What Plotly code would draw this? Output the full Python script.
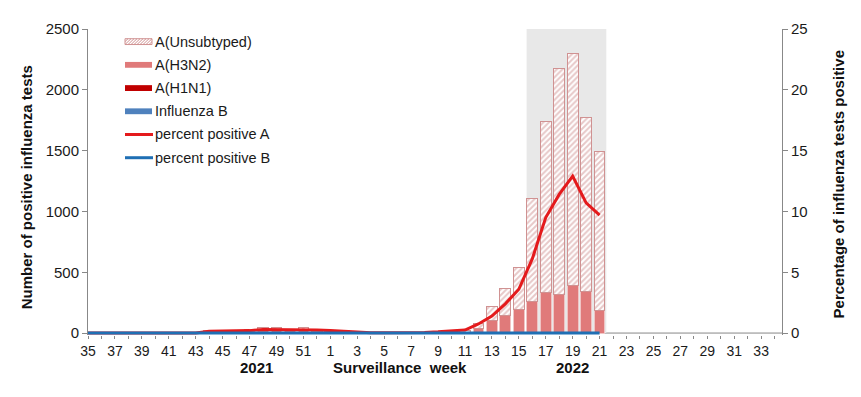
import plotly.graph_objects as go

# ---- data ----
weeks = list(range(35, 53)) + list(range(1, 35))
tick_labels = [str(w) if w % 2 == 1 else "" for w in weeks]

N = None
# values per week (35..52 of 2021, 1..34 of 2022)
influenza_b = [0]*9 + [5, 3, 2, 2, 2, 2, 2, 2, 1, 1, 1, 0, 0, 0, 0, 0, 0, 0, 0, 0,
                       0, 0, 0, 0, 0, 0, 0, 0, 0] + [N]*13
a_h1n1 = [0]*9 + [0]*30 + [N]*13
a_h3n2 = [0]*9 + [8, 10, 10, 12, 22, 15, 15, 15, 12, 10, 8, 2, 0, 0, 0, 0, 0, 2, 4, 8,
                  35, 101, 147, 195, 258, 330, 317, 391, 343, 184] + [N]*13
a_unsub = [0]*9 + [12, 10, 10, 12, 18, 25, 15, 25, 12, 10, 10, 3, 1, 1, 1, 1, 2, 4, 6, 10,
                   40, 120, 218, 346, 852, 1411, 1855, 1909, 1430, 1310] + [N]*13
pct_a = [0]*9 + [0.15, 0.15, 0.2, 0.2, 0.3, 0.3, 0.3, 0.3, 0.25, 0.2, 0.15, 0.05, 0.02, 0.02,
                 0.02, 0.02, 0.05, 0.1, 0.15, 0.25, 0.75, 1.4, 2.4, 3.6, 6.1, 9.5, 11.4,
                 12.9, 10.7, 9.7] + [N]*13
pct_b = [0]*39 + [N]*13

x = list(range(len(weeks)))

# ---- styling ----
C_UNSUB = "#D09292"
C_H3N2 = "#E07A7A"
C_H1N1 = "#C00000"
C_B = "#4F81BD"
C_LA = "#E41A1C"
C_LB = "#1F6FB4"
FONT = "Liberation Sans, Arial, sans-serif"

fig = go.Figure()
fig.add_trace(go.Bar(x=x, y=influenza_b, name="Influenza B", width=0.8,
                     marker=dict(color=C_B, line=dict(width=0)), showlegend=False))
fig.add_trace(go.Bar(x=x, y=a_h1n1, name="A(H1N1)", width=0.8,
                     marker=dict(color=C_H1N1, line=dict(width=0)), showlegend=False))
fig.add_trace(go.Bar(x=x, y=a_h3n2, name="A(H3N2)", width=0.8,
                     marker=dict(color=C_H3N2, line=dict(width=1, color="#F0C4C4")),
                     showlegend=False))
fig.add_trace(go.Bar(x=x, y=a_unsub, name="A(Unsubtyped)", width=0.8,
                     marker=dict(color="white", line=dict(width=1, color=C_UNSUB),
                                 pattern=dict(shape="/", fgcolor=C_UNSUB, bgcolor="white",
                                              size=4, solidity=0.5)),
                     showlegend=False))
fig.add_trace(go.Scatter(x=x, y=pct_a, name="percent positive A", yaxis="y2",
                         mode="lines", line=dict(color=C_LA, width=3),
                         cliponaxis=False, showlegend=False))
fig.add_trace(go.Scatter(x=x, y=pct_b, name="percent positive B", yaxis="y2",
                         mode="lines", line=dict(color=C_LB, width=3),
                         cliponaxis=False, showlegend=False))

# page body has an 8px margin; target plot area is x 88..782, y 20..333 in the window
OFF = 8
W, H = 853, 389
EXT = 2  # plot area extends 2px below the zero line so the zero-level lines are not clipped
L, R, T, B = 88 - OFF, 79, 20 - OFF, 64 - EXT
PW = W - L - R
PH0 = 313  # pixel height from 0 to top of axis range
Y1MAX, Y2MAX = 2500, 25
y1min = -Y1MAX * EXT / PH0
y2min = -Y2MAX * EXT / PH0
PH = PH0 + EXT


def px(xp):
    return (xp - OFF - L) / PW


def py(yp):
    # window pixel -> paper fraction
    return (T + PH - (yp - OFF)) / PH


shapes = [dict(type="rect", xref="x", yref="y", x0=32.58, x1=38.5, y0=0, y1=Y1MAX,
               fillcolor="#E8E8E8", line=dict(width=0), layer="below"),
          dict(type="line", xref="paper", yref="y", x0=0, x1=1, y0=0, y1=0,
               line=dict(color="#888", width=1), layer="below")]
annotations = []

# custom legend
legend_items = [("A(Unsubtyped)", "hatch"), ("A(H3N2)", C_H3N2), ("A(H1N1)", C_H1N1),
                ("Influenza B", C_B), ("percent positive A", ("line", C_LA)),
                ("percent positive B", ("line", C_LB))]
sx0, sx1 = 125, 152
for i, (label, kind) in enumerate(legend_items):
    cy = 33 + i * 23.9
    if kind == "hatch":
        shapes.append(dict(type="rect", xref="paper", yref="paper", x0=px(sx0), x1=px(sx1),
                           y0=py(cy + 3), y1=py(cy - 3), fillcolor="white",
                           line=dict(color=C_UNSUB, width=1)))
        a = sx0 - 6
        while a < sx1:
            t0 = max(0.0, (sx0 - a) / 6.0)
            t1 = min(1.0, (sx1 - a) / 6.0)
            if t1 > t0:
                shapes.append(dict(type="line", xref="paper", yref="paper",
                                   x0=px(a + 6 * t0), y0=py(cy + 3 - 6 * t0),
                                   x1=px(a + 6 * t1), y1=py(cy + 3 - 6 * t1),
                                   line=dict(color=C_UNSUB, width=1)))
            a += 3
    elif isinstance(kind, tuple):
        shapes.append(dict(type="line", xref="paper", yref="paper", x0=px(sx0), x1=px(sx1 + 1),
                           y0=py(cy), y1=py(cy), line=dict(color=kind[1], width=3)))
    else:
        shapes.append(dict(type="rect", xref="paper", yref="paper", x0=px(sx0), x1=px(sx1),
                           y0=py(cy + 3), y1=py(cy - 3), fillcolor=kind,
                           line=dict(width=0)))
    annotations.append(dict(text=label, xref="paper", yref="paper", x=px(153), y=py(cy),
                            xanchor="left", yanchor="middle", showarrow=False,
                            font=dict(size=14.5, color="#1a1a1a", family=FONT)))

# axis titles & year labels
annotations += [
    dict(text="<b>Number of positive influenza tests</b>", xref="paper", yref="paper",
         x=px(26), y=py(183), textangle=-90, showarrow=False, xanchor="center",
         yanchor="middle", font=dict(size=15, color="#111", family=FONT)),
    dict(text="<b>Percentage of influenza tests positive</b>", xref="paper", yref="paper",
         x=px(838), y=py(180), textangle=-90, showarrow=False, xanchor="center",
         yanchor="middle", font=dict(size=15, color="#111", family=FONT)),
    dict(text="<b>2021</b>", xref="paper", yref="paper", x=px(238), y=py(379),
         showarrow=False, font=dict(size=15, color="#111", family=FONT)),
    dict(text="<b>Surveillance\u00a0\u00a0week</b>", xref="paper", yref="paper", x=px(400),
         y=py(379), showarrow=False, font=dict(size=15, color="#111", family=FONT)),
    dict(text="<b>2022</b>", xref="paper", yref="paper", x=px(591), y=py(379),
         showarrow=False, font=dict(size=15, color="#111", family=FONT)),
]

fig.update_layout(
    width=W, height=H, margin=dict(l=L, r=R, t=T, b=B),
    barmode="stack", plot_bgcolor="white", paper_bgcolor="white",
    font=dict(family=FONT, color="#1a1a1a"),
    shapes=shapes, annotations=annotations, showlegend=False,
    xaxis=dict(range=[0, 51.55], tickvals=x, ticktext=tick_labels, tickangle=0,
               showgrid=False, zeroline=False, showline=False,
               ticks="outside", ticklen=3, tickcolor="#888",
               tickfont=dict(size=14, color="#1a1a1a")),
    yaxis=dict(range=[y1min, Y1MAX], tickvals=[0, 500, 1000, 1500, 2000, 2500],
               showgrid=False, zeroline=False, showline=True,
               linecolor="#888", ticks="outside", ticklen=5, tickcolor="#888",
               tickfont=dict(size=15, color="#1a1a1a")),
    yaxis2=dict(range=[y2min, Y2MAX], tickvals=[0, 5, 10, 15, 20, 25], overlaying="y",
                side="right", showgrid=False,
                zeroline=False, showline=True, linecolor="#888", ticks="outside",
                ticklen=5, tickcolor="#888", tickfont=dict(size=15, color="#1a1a1a")),
)

fig.write_html("out.html")
